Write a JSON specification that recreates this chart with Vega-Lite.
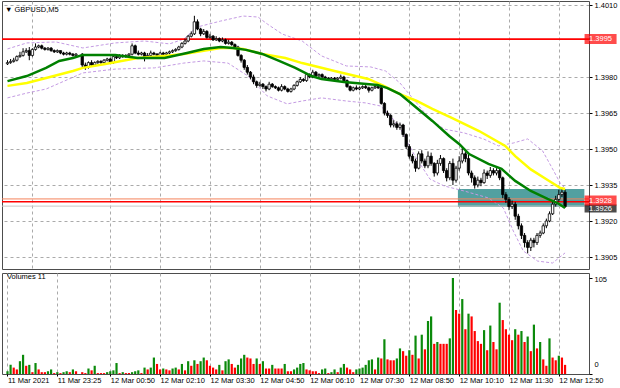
{
"$schema":"https://vega.github.io/schema/vega-lite/v6.json",
"padding":0,
"background":"white",
"spacing":2,
"config":{"font":"Liberation Sans","view":{"stroke":"#4d4d4d","strokeWidth":1},
"axis":{"labelFont":"Liberation Sans","labelFontSize":7.5,"labelColor":"#000000","tickColor":"#000000","domain":false},
"title":{"font":"Liberation Sans","fontSize":7.5,"fontWeight":"normal","color":"#000000"}},
"datasets":{
"bars":[
{"t":"2021-03-11T22:05","o":1.39855,"h":1.3987,"l":1.3985,"c":1.3986,"v":3,"vd":"up"},
{"t":"2021-03-11T22:10","o":1.3986,"h":1.39875,"l":1.39855,"c":1.39865,"v":10,"vd":"up"},
{"t":"2021-03-11T22:15","o":1.39865,"h":1.3988,"l":1.3986,"c":1.3987,"v":7,"vd":"dn"},
{"t":"2021-03-11T22:20","o":1.3987,"h":1.3989,"l":1.39865,"c":1.39885,"v":5,"vd":"dn"},
{"t":"2021-03-11T22:25","o":1.39885,"h":1.39905,"l":1.3988,"c":1.3989,"v":14,"vd":"up"},
{"t":"2021-03-11T22:30","o":1.3989,"h":1.3992,"l":1.39885,"c":1.39905,"v":21,"vd":"up"},
{"t":"2021-03-11T22:35","o":1.39905,"h":1.3992,"l":1.399,"c":1.3991,"v":9,"vd":"dn"},
{"t":"2021-03-11T22:40","o":1.3991,"h":1.39925,"l":1.3987,"c":1.3989,"v":10,"vd":"up"},
{"t":"2021-03-11T22:45","o":1.3989,"h":1.3992,"l":1.39885,"c":1.39915,"v":2,"vd":"dn"},
{"t":"2021-03-11T22:50","o":1.39915,"h":1.3994,"l":1.3991,"c":1.39925,"v":12,"vd":"up"},
{"t":"2021-03-11T22:55","o":1.39925,"h":1.39935,"l":1.3992,"c":1.3993,"v":5,"vd":"dn"},
{"t":"2021-03-11T23:00","o":1.3993,"h":1.39935,"l":1.39915,"c":1.3992,"v":2,"vd":"dn"},
{"t":"2021-03-11T23:05","o":1.3992,"h":1.39925,"l":1.3991,"c":1.39915,"v":2,"vd":"dn"},
{"t":"2021-03-11T23:10","o":1.39915,"h":1.39925,"l":1.3991,"c":1.3992,"v":3,"vd":"up"},
{"t":"2021-03-11T23:15","o":1.3992,"h":1.39925,"l":1.39905,"c":1.3991,"v":5,"vd":"up"},
{"t":"2021-03-11T23:20","o":1.3991,"h":1.39915,"l":1.399,"c":1.39905,"v":1,"vd":"dn"},
{"t":"2021-03-11T23:25","o":1.39905,"h":1.39915,"l":1.399,"c":1.3991,"v":2,"vd":"up"},
{"t":"2021-03-11T23:30","o":1.3991,"h":1.3991,"l":1.39895,"c":1.399,"v":1,"vd":"dn"},
{"t":"2021-03-11T23:35","o":1.399,"h":1.39905,"l":1.3989,"c":1.39895,"v":2,"vd":"up"},
{"t":"2021-03-11T23:40","o":1.39895,"h":1.39905,"l":1.3989,"c":1.399,"v":3,"vd":"up"},
{"t":"2021-03-11T23:45","o":1.399,"h":1.39905,"l":1.3989,"c":1.39895,"v":2,"vd":"dn"},
{"t":"2021-03-11T23:50","o":1.39895,"h":1.399,"l":1.39885,"c":1.3989,"v":5,"vd":"up"},
{"t":"2021-03-11T23:55","o":1.3989,"h":1.399,"l":1.39885,"c":1.39895,"v":3,"vd":"dn"},
{"t":"2021-03-12T00:05","o":1.39895,"h":1.399,"l":1.3984,"c":1.3985,"v":2,"vd":"dn"},
{"t":"2021-03-12T00:10","o":1.3985,"h":1.3986,"l":1.3983,"c":1.3984,"v":1,"vd":"dn"},
{"t":"2021-03-12T00:15","o":1.3984,"h":1.39865,"l":1.39835,"c":1.3986,"v":6,"vd":"up"},
{"t":"2021-03-12T00:20","o":1.3986,"h":1.3987,"l":1.39845,"c":1.3985,"v":4,"vd":"dn"},
{"t":"2021-03-12T00:25","o":1.3985,"h":1.39865,"l":1.39845,"c":1.3986,"v":9,"vd":"up"},
{"t":"2021-03-12T00:30","o":1.3986,"h":1.3987,"l":1.39855,"c":1.39865,"v":1,"vd":"dn"},
{"t":"2021-03-12T00:35","o":1.39865,"h":1.3987,"l":1.39855,"c":1.3986,"v":1,"vd":"dn"},
{"t":"2021-03-12T00:40","o":1.3986,"h":1.39875,"l":1.39855,"c":1.3987,"v":1,"vd":"dn"},
{"t":"2021-03-12T00:45","o":1.3987,"h":1.3988,"l":1.39865,"c":1.39875,"v":2,"vd":"up"},
{"t":"2021-03-12T00:50","o":1.39875,"h":1.3988,"l":1.39855,"c":1.3986,"v":3,"vd":"up"},
{"t":"2021-03-12T00:55","o":1.3986,"h":1.39895,"l":1.39855,"c":1.39885,"v":4,"vd":"up"},
{"t":"2021-03-12T01:00","o":1.39885,"h":1.3989,"l":1.39875,"c":1.3988,"v":12,"vd":"up"},
{"t":"2021-03-12T01:05","o":1.3988,"h":1.39895,"l":1.39875,"c":1.3989,"v":1,"vd":"dn"},
{"t":"2021-03-12T01:10","o":1.3989,"h":1.39895,"l":1.3988,"c":1.39885,"v":2,"vd":"up"},
{"t":"2021-03-12T01:15","o":1.39885,"h":1.39895,"l":1.3988,"c":1.3989,"v":1,"vd":"dn"},
{"t":"2021-03-12T01:20","o":1.3989,"h":1.399,"l":1.39885,"c":1.39895,"v":1,"vd":"dn"},
{"t":"2021-03-12T01:25","o":1.39895,"h":1.3994,"l":1.3989,"c":1.3993,"v":2,"vd":"up"},
{"t":"2021-03-12T01:30","o":1.3993,"h":1.39935,"l":1.39895,"c":1.399,"v":3,"vd":"up"},
{"t":"2021-03-12T01:35","o":1.399,"h":1.3991,"l":1.3989,"c":1.39895,"v":4,"vd":"up"},
{"t":"2021-03-12T01:40","o":1.39895,"h":1.39905,"l":1.3989,"c":1.399,"v":1,"vd":"dn"},
{"t":"2021-03-12T01:45","o":1.399,"h":1.39905,"l":1.39865,"c":1.3988,"v":7,"vd":"up"},
{"t":"2021-03-12T01:50","o":1.3988,"h":1.399,"l":1.39875,"c":1.3989,"v":5,"vd":"dn"},
{"t":"2021-03-12T01:55","o":1.3989,"h":1.3991,"l":1.39885,"c":1.399,"v":7,"vd":"up"},
{"t":"2021-03-12T02:00","o":1.399,"h":1.39905,"l":1.3989,"c":1.39895,"v":18,"vd":"up"},
{"t":"2021-03-12T02:05","o":1.39895,"h":1.399,"l":1.39885,"c":1.3989,"v":11,"vd":"dn"},
{"t":"2021-03-12T02:10","o":1.3989,"h":1.39905,"l":1.39885,"c":1.399,"v":5,"vd":"dn"},
{"t":"2021-03-12T02:15","o":1.399,"h":1.39905,"l":1.3989,"c":1.39895,"v":6,"vd":"up"},
{"t":"2021-03-12T02:20","o":1.39895,"h":1.39905,"l":1.3989,"c":1.399,"v":5,"vd":"dn"},
{"t":"2021-03-12T02:25","o":1.399,"h":1.3991,"l":1.39895,"c":1.39905,"v":4,"vd":"dn"},
{"t":"2021-03-12T02:30","o":1.39905,"h":1.39915,"l":1.399,"c":1.3991,"v":6,"vd":"up"},
{"t":"2021-03-12T02:35","o":1.3991,"h":1.3992,"l":1.39905,"c":1.39915,"v":7,"vd":"up"},
{"t":"2021-03-12T02:40","o":1.39915,"h":1.3993,"l":1.3991,"c":1.39925,"v":5,"vd":"dn"},
{"t":"2021-03-12T02:45","o":1.39925,"h":1.39945,"l":1.3992,"c":1.3994,"v":11,"vd":"up"},
{"t":"2021-03-12T02:50","o":1.3994,"h":1.3996,"l":1.39935,"c":1.3995,"v":4,"vd":"dn"},
{"t":"2021-03-12T02:55","o":1.3995,"h":1.39975,"l":1.39945,"c":1.3997,"v":14,"vd":"up"},
{"t":"2021-03-12T03:00","o":1.3997,"h":1.3999,"l":1.39965,"c":1.3998,"v":9,"vd":"dn"},
{"t":"2021-03-12T03:05","o":1.3998,"h":1.40055,"l":1.39975,"c":1.4003,"v":15,"vd":"up"},
{"t":"2021-03-12T03:10","o":1.4003,"h":1.4004,"l":1.39995,"c":1.4,"v":11,"vd":"dn"},
{"t":"2021-03-12T03:15","o":1.4,"h":1.40005,"l":1.3997,"c":1.3998,"v":14,"vd":"up"},
{"t":"2021-03-12T03:20","o":1.3998,"h":1.4,"l":1.39975,"c":1.3999,"v":18,"vd":"up"},
{"t":"2021-03-12T03:25","o":1.3999,"h":1.39995,"l":1.3996,"c":1.39965,"v":15,"vd":"dn"},
{"t":"2021-03-12T03:30","o":1.39965,"h":1.3998,"l":1.3996,"c":1.3997,"v":9,"vd":"dn"},
{"t":"2021-03-12T03:35","o":1.3997,"h":1.39975,"l":1.3995,"c":1.39955,"v":7,"vd":"dn"},
{"t":"2021-03-12T03:40","o":1.39955,"h":1.3997,"l":1.3995,"c":1.3996,"v":5,"vd":"dn"},
{"t":"2021-03-12T03:45","o":1.3996,"h":1.39965,"l":1.39945,"c":1.3995,"v":10,"vd":"up"},
{"t":"2021-03-12T03:50","o":1.3995,"h":1.39965,"l":1.39945,"c":1.39955,"v":4,"vd":"dn"},
{"t":"2021-03-12T03:55","o":1.39955,"h":1.3996,"l":1.39935,"c":1.3994,"v":14,"vd":"up"},
{"t":"2021-03-12T04:00","o":1.3994,"h":1.39955,"l":1.39935,"c":1.39945,"v":16,"vd":"up"},
{"t":"2021-03-12T04:05","o":1.39945,"h":1.3995,"l":1.3993,"c":1.39935,"v":11,"vd":"dn"},
{"t":"2021-03-12T04:10","o":1.39935,"h":1.3994,"l":1.3992,"c":1.39925,"v":7,"vd":"dn"},
{"t":"2021-03-12T04:15","o":1.39925,"h":1.3993,"l":1.39885,"c":1.3989,"v":10,"vd":"up"},
{"t":"2021-03-12T04:20","o":1.3989,"h":1.39895,"l":1.3986,"c":1.3987,"v":17,"vd":"up"},
{"t":"2021-03-12T04:25","o":1.3987,"h":1.39875,"l":1.3983,"c":1.3984,"v":21,"vd":"up"},
{"t":"2021-03-12T04:30","o":1.3984,"h":1.3985,"l":1.3981,"c":1.3982,"v":18,"vd":"dn"},
{"t":"2021-03-12T04:35","o":1.3982,"h":1.39825,"l":1.3979,"c":1.398,"v":17,"vd":"dn"},
{"t":"2021-03-12T04:40","o":1.398,"h":1.3981,"l":1.3977,"c":1.3978,"v":11,"vd":"dn"},
{"t":"2021-03-12T04:45","o":1.3978,"h":1.39785,"l":1.39755,"c":1.39765,"v":17,"vd":"up"},
{"t":"2021-03-12T04:50","o":1.39765,"h":1.3978,"l":1.3976,"c":1.3977,"v":11,"vd":"dn"},
{"t":"2021-03-12T04:55","o":1.3977,"h":1.39775,"l":1.3975,"c":1.3976,"v":14,"vd":"up"},
{"t":"2021-03-12T05:00","o":1.3976,"h":1.39765,"l":1.3974,"c":1.3975,"v":6,"vd":"dn"},
{"t":"2021-03-12T05:05","o":1.3975,"h":1.3978,"l":1.39745,"c":1.3977,"v":6,"vd":"dn"},
{"t":"2021-03-12T05:10","o":1.3977,"h":1.39775,"l":1.39755,"c":1.3976,"v":10,"vd":"up"},
{"t":"2021-03-12T05:15","o":1.3976,"h":1.39765,"l":1.3975,"c":1.39755,"v":6,"vd":"dn"},
{"t":"2021-03-12T05:20","o":1.39755,"h":1.3976,"l":1.3974,"c":1.39745,"v":6,"vd":"dn"},
{"t":"2021-03-12T05:25","o":1.39745,"h":1.3977,"l":1.3974,"c":1.3976,"v":6,"vd":"dn"},
{"t":"2021-03-12T05:30","o":1.3976,"h":1.39765,"l":1.39745,"c":1.3975,"v":11,"vd":"up"},
{"t":"2021-03-12T05:35","o":1.3975,"h":1.39755,"l":1.39735,"c":1.3974,"v":3,"vd":"dn"},
{"t":"2021-03-12T05:40","o":1.3974,"h":1.39755,"l":1.39735,"c":1.3975,"v":3,"vd":"dn"},
{"t":"2021-03-12T05:45","o":1.3975,"h":1.3977,"l":1.39745,"c":1.39765,"v":5,"vd":"up"},
{"t":"2021-03-12T05:50","o":1.39765,"h":1.39785,"l":1.3976,"c":1.3978,"v":7,"vd":"up"},
{"t":"2021-03-12T05:55","o":1.3978,"h":1.398,"l":1.39775,"c":1.3979,"v":11,"vd":"up"},
{"t":"2021-03-12T06:00","o":1.3979,"h":1.39795,"l":1.3978,"c":1.39785,"v":12,"vd":"up"},
{"t":"2021-03-12T06:05","o":1.39785,"h":1.39815,"l":1.3978,"c":1.3981,"v":5,"vd":"dn"},
{"t":"2021-03-12T06:10","o":1.3981,"h":1.39815,"l":1.39795,"c":1.398,"v":4,"vd":"dn"},
{"t":"2021-03-12T06:15","o":1.398,"h":1.3983,"l":1.39795,"c":1.3982,"v":3,"vd":"dn"},
{"t":"2021-03-12T06:20","o":1.3982,"h":1.39825,"l":1.398,"c":1.39805,"v":3,"vd":"dn"},
{"t":"2021-03-12T06:25","o":1.39805,"h":1.39815,"l":1.398,"c":1.3981,"v":1,"vd":"dn"},
{"t":"2021-03-12T06:30","o":1.3981,"h":1.39815,"l":1.39795,"c":1.398,"v":5,"vd":"up"},
{"t":"2021-03-12T06:35","o":1.398,"h":1.39805,"l":1.3979,"c":1.39795,"v":6,"vd":"up"},
{"t":"2021-03-12T06:40","o":1.39795,"h":1.398,"l":1.39785,"c":1.3979,"v":1,"vd":"dn"},
{"t":"2021-03-12T06:45","o":1.3979,"h":1.398,"l":1.39785,"c":1.39795,"v":2,"vd":"up"},
{"t":"2021-03-12T06:50","o":1.39795,"h":1.398,"l":1.39785,"c":1.3979,"v":5,"vd":"up"},
{"t":"2021-03-12T06:55","o":1.3979,"h":1.398,"l":1.39785,"c":1.39795,"v":2,"vd":"dn"},
{"t":"2021-03-12T07:00","o":1.39795,"h":1.3981,"l":1.3979,"c":1.398,"v":7,"vd":"up"},
{"t":"2021-03-12T07:05","o":1.398,"h":1.39805,"l":1.3978,"c":1.39785,"v":11,"vd":"up"},
{"t":"2021-03-12T07:10","o":1.39785,"h":1.3979,"l":1.39755,"c":1.3976,"v":7,"vd":"dn"},
{"t":"2021-03-12T07:15","o":1.3976,"h":1.39765,"l":1.3974,"c":1.39745,"v":5,"vd":"dn"},
{"t":"2021-03-12T07:20","o":1.39745,"h":1.3976,"l":1.3974,"c":1.39755,"v":2,"vd":"dn"},
{"t":"2021-03-12T07:25","o":1.39755,"h":1.39765,"l":1.39745,"c":1.3975,"v":5,"vd":"up"},
{"t":"2021-03-12T07:30","o":1.3975,"h":1.3976,"l":1.39745,"c":1.39755,"v":6,"vd":"up"},
{"t":"2021-03-12T07:35","o":1.39755,"h":1.39765,"l":1.3975,"c":1.3976,"v":7,"vd":"up"},
{"t":"2021-03-12T07:40","o":1.3976,"h":1.3977,"l":1.3975,"c":1.39755,"v":10,"vd":"up"},
{"t":"2021-03-12T07:45","o":1.39755,"h":1.3976,"l":1.39735,"c":1.39745,"v":15,"vd":"up"},
{"t":"2021-03-12T07:50","o":1.39745,"h":1.3976,"l":1.3974,"c":1.39755,"v":16,"vd":"up"},
{"t":"2021-03-12T07:55","o":1.39755,"h":1.39765,"l":1.3975,"c":1.3976,"v":5,"vd":"dn"},
{"t":"2021-03-12T08:00","o":1.3976,"h":1.3977,"l":1.3975,"c":1.39755,"v":18,"vd":"up"},
{"t":"2021-03-12T08:05","o":1.39755,"h":1.3976,"l":1.39685,"c":1.3969,"v":17,"vd":"dn"},
{"t":"2021-03-12T08:10","o":1.3969,"h":1.39695,"l":1.3964,"c":1.3965,"v":38,"vd":"up"},
{"t":"2021-03-12T08:15","o":1.3965,"h":1.3966,"l":1.3963,"c":1.3964,"v":16,"vd":"dn"},
{"t":"2021-03-12T08:20","o":1.3964,"h":1.39645,"l":1.3959,"c":1.396,"v":15,"vd":"dn"},
{"t":"2021-03-12T08:25","o":1.396,"h":1.3962,"l":1.3959,"c":1.39605,"v":15,"vd":"dn"},
{"t":"2021-03-12T08:30","o":1.39605,"h":1.39615,"l":1.3958,"c":1.3959,"v":17,"vd":"up"},
{"t":"2021-03-12T08:35","o":1.3959,"h":1.3961,"l":1.3958,"c":1.396,"v":28,"vd":"up"},
{"t":"2021-03-12T08:40","o":1.396,"h":1.39605,"l":1.3955,"c":1.3956,"v":25,"vd":"dn"},
{"t":"2021-03-12T08:45","o":1.3956,"h":1.39565,"l":1.395,"c":1.3951,"v":20,"vd":"dn"},
{"t":"2021-03-12T08:50","o":1.3951,"h":1.3952,"l":1.3946,"c":1.3947,"v":26,"vd":"up"},
{"t":"2021-03-12T08:55","o":1.3947,"h":1.3948,"l":1.3944,"c":1.3945,"v":21,"vd":"dn"},
{"t":"2021-03-12T09:00","o":1.3945,"h":1.3946,"l":1.39405,"c":1.3942,"v":42,"vd":"up"},
{"t":"2021-03-12T09:05","o":1.3942,"h":1.3949,"l":1.39415,"c":1.3948,"v":17,"vd":"dn"},
{"t":"2021-03-12T09:10","o":1.3948,"h":1.39495,"l":1.3944,"c":1.3945,"v":43,"vd":"up"},
{"t":"2021-03-12T09:15","o":1.3945,"h":1.3946,"l":1.3942,"c":1.3943,"v":27,"vd":"dn"},
{"t":"2021-03-12T09:20","o":1.3943,"h":1.3949,"l":1.3942,"c":1.3947,"v":58,"vd":"up"},
{"t":"2021-03-12T09:25","o":1.3947,"h":1.39485,"l":1.3943,"c":1.3944,"v":63,"vd":"up"},
{"t":"2021-03-12T09:30","o":1.3944,"h":1.39445,"l":1.39385,"c":1.394,"v":33,"vd":"dn"},
{"t":"2021-03-12T09:35","o":1.394,"h":1.39455,"l":1.3939,"c":1.3944,"v":35,"vd":"up"},
{"t":"2021-03-12T09:40","o":1.3944,"h":1.39475,"l":1.3943,"c":1.3946,"v":33,"vd":"dn"},
{"t":"2021-03-12T09:45","o":1.3946,"h":1.39465,"l":1.394,"c":1.3941,"v":33,"vd":"dn"},
{"t":"2021-03-12T09:50","o":1.3941,"h":1.3942,"l":1.39365,"c":1.3938,"v":33,"vd":"dn"},
{"t":"2021-03-12T09:55","o":1.3938,"h":1.3945,"l":1.3937,"c":1.3944,"v":39,"vd":"up"},
{"t":"2021-03-12T10:00","o":1.3944,"h":1.3946,"l":1.3935,"c":1.3937,"v":105,"vd":"up"},
{"t":"2021-03-12T10:05","o":1.3937,"h":1.3943,"l":1.3936,"c":1.3942,"v":70,"vd":"dn"},
{"t":"2021-03-12T10:10","o":1.3942,"h":1.3947,"l":1.3941,"c":1.3945,"v":66,"vd":"dn"},
{"t":"2021-03-12T10:15","o":1.3945,"h":1.39505,"l":1.3944,"c":1.3948,"v":82,"vd":"up"},
{"t":"2021-03-12T10:20","o":1.3948,"h":1.3949,"l":1.39445,"c":1.3946,"v":49,"vd":"dn"},
{"t":"2021-03-12T10:25","o":1.3946,"h":1.3948,"l":1.3939,"c":1.394,"v":66,"vd":"up"},
{"t":"2021-03-12T10:30","o":1.394,"h":1.3941,"l":1.3936,"c":1.3938,"v":63,"vd":"dn"},
{"t":"2021-03-12T10:35","o":1.3938,"h":1.3939,"l":1.39335,"c":1.3935,"v":47,"vd":"dn"},
{"t":"2021-03-12T10:40","o":1.3935,"h":1.39385,"l":1.3934,"c":1.3937,"v":36,"vd":"dn"},
{"t":"2021-03-12T10:45","o":1.3937,"h":1.3938,"l":1.39345,"c":1.3936,"v":33,"vd":"dn"},
{"t":"2021-03-12T10:50","o":1.3936,"h":1.39415,"l":1.39355,"c":1.394,"v":48,"vd":"up"},
{"t":"2021-03-12T10:55","o":1.394,"h":1.3941,"l":1.39375,"c":1.3939,"v":26,"vd":"dn"},
{"t":"2021-03-12T11:00","o":1.3939,"h":1.39425,"l":1.3938,"c":1.3941,"v":53,"vd":"up"},
{"t":"2021-03-12T11:05","o":1.3941,"h":1.3942,"l":1.3939,"c":1.394,"v":35,"vd":"dn"},
{"t":"2021-03-12T11:10","o":1.394,"h":1.3942,"l":1.3939,"c":1.3941,"v":27,"vd":"dn"},
{"t":"2021-03-12T11:15","o":1.3941,"h":1.3942,"l":1.3937,"c":1.3938,"v":78,"vd":"up"},
{"t":"2021-03-12T11:20","o":1.3938,"h":1.39385,"l":1.39295,"c":1.3931,"v":59,"vd":"dn"},
{"t":"2021-03-12T11:25","o":1.3931,"h":1.3932,"l":1.39275,"c":1.3929,"v":49,"vd":"dn"},
{"t":"2021-03-12T11:30","o":1.3929,"h":1.393,"l":1.39245,"c":1.3926,"v":43,"vd":"dn"},
{"t":"2021-03-12T11:35","o":1.3926,"h":1.39285,"l":1.3925,"c":1.3927,"v":37,"vd":"dn"},
{"t":"2021-03-12T11:40","o":1.3927,"h":1.3928,"l":1.39205,"c":1.3922,"v":49,"vd":"up"},
{"t":"2021-03-12T11:45","o":1.3922,"h":1.3923,"l":1.39165,"c":1.3918,"v":43,"vd":"dn"},
{"t":"2021-03-12T11:50","o":1.3918,"h":1.3919,"l":1.39125,"c":1.3914,"v":47,"vd":"up"},
{"t":"2021-03-12T11:55","o":1.3914,"h":1.3915,"l":1.3909,"c":1.3911,"v":35,"vd":"dn"},
{"t":"2021-03-12T12:00","o":1.3911,"h":1.3912,"l":1.39065,"c":1.3909,"v":41,"vd":"up"},
{"t":"2021-03-12T12:05","o":1.3909,"h":1.3913,"l":1.39075,"c":1.3912,"v":25,"vd":"dn"},
{"t":"2021-03-12T12:10","o":1.3912,"h":1.3913,"l":1.3909,"c":1.3911,"v":54,"vd":"up"},
{"t":"2021-03-12T12:15","o":1.3911,"h":1.3915,"l":1.391,"c":1.3914,"v":28,"vd":"dn"},
{"t":"2021-03-12T12:20","o":1.3914,"h":1.3916,"l":1.3913,"c":1.3915,"v":35,"vd":"up"},
{"t":"2021-03-12T12:25","o":1.3915,"h":1.3919,"l":1.39145,"c":1.3918,"v":16,"vd":"dn"},
{"t":"2021-03-12T12:30","o":1.3918,"h":1.3921,"l":1.3917,"c":1.392,"v":9,"vd":"dn"},
{"t":"2021-03-12T12:35","o":1.392,"h":1.3924,"l":1.39195,"c":1.3923,"v":39,"vd":"up"},
{"t":"2021-03-12T12:40","o":1.3923,"h":1.3928,"l":1.39225,"c":1.3927,"v":18,"vd":"dn"},
{"t":"2021-03-12T12:45","o":1.3927,"h":1.39305,"l":1.3926,"c":1.3929,"v":15,"vd":"dn"},
{"t":"2021-03-12T12:50","o":1.3929,"h":1.3933,"l":1.3928,"c":1.3931,"v":20,"vd":"up"},
{"t":"2021-03-12T12:55","o":1.3931,"h":1.3934,"l":1.393,"c":1.3932,"v":18,"vd":"dn"},
{"t":"2021-03-12T13:00","o":1.3932,"h":1.3933,"l":1.39255,"c":1.3926,"v":10,"vd":"dn"}
],
"ind":[
{"t":"2021-03-11T22:05","s":"slow","p":1.39763},{"t":"2021-03-11T22:36","s":"slow","p":1.39775},{"t":"2021-03-11T23:07","s":"slow","p":1.39796},{"t":"2021-03-11T23:50","s":"slow","p":1.39825},{"t":"2021-03-12T00:06","s":"slow","p":1.39838},{"t":"2021-03-12T00:42","s":"slow","p":1.39854},{"t":"2021-03-12T01:34","s":"slow","p":1.39879},{"t":"2021-03-12T02:17","s":"slow","p":1.39888},{"t":"2021-03-12T02:48","s":"slow","p":1.39896},{"t":"2021-03-12T03:47","s":"slow","p":1.39921},{"t":"2021-03-12T04:07","s":"slow","p":1.39921},{"t":"2021-03-12T04:23","s":"slow","p":1.39917},{"t":"2021-03-12T04:54","s":"slow","p":1.39896},{"t":"2021-03-12T05:31","s":"slow","p":1.39879},{"t":"2021-03-12T05:58","s":"slow","p":1.39858},{"t":"2021-03-12T06:50","s":"slow","p":1.39825},{"t":"2021-03-12T07:44","s":"slow","p":1.39792},{"t":"2021-03-12T08:09","s":"slow","p":1.39763},{"t":"2021-03-12T08:35","s":"slow","p":1.39729},{"t":"2021-03-12T09:02","s":"slow","p":1.397},{"t":"2021-03-12T09:27","s":"slow","p":1.39667},{"t":"2021-03-12T09:59","s":"slow","p":1.39629},{"t":"2021-03-12T10:42","s":"slow","p":1.39575},{"t":"2021-03-12T11:24","s":"slow","p":1.39513},{"t":"2021-03-12T11:40","s":"slow","p":1.3947},{"t":"2021-03-12T12:05","s":"slow","p":1.39415},{"t":"2021-03-12T12:32","s":"slow","p":1.39371},{"t":"2021-03-12T12:52","s":"slow","p":1.39338},{"t":"2021-03-12T13:00","s":"slow","p":1.39333},
{"t":"2021-03-11T22:05","s":"fast","p":1.39783},{"t":"2021-03-11T22:36","s":"fast","p":1.39804},{"t":"2021-03-11T23:07","s":"fast","p":1.39838},{"t":"2021-03-11T23:28","s":"fast","p":1.39867},{"t":"2021-03-11T23:50","s":"fast","p":1.39879},{"t":"2021-03-12T00:06","s":"fast","p":1.39892},{"t":"2021-03-12T00:58","s":"fast","p":1.39892},{"t":"2021-03-12T01:34","s":"fast","p":1.39879},{"t":"2021-03-12T02:17","s":"fast","p":1.39879},{"t":"2021-03-12T02:53","s":"fast","p":1.399},{"t":"2021-03-12T03:20","s":"fast","p":1.39917},{"t":"2021-03-12T03:47","s":"fast","p":1.39925},{"t":"2021-03-12T04:07","s":"fast","p":1.39921},{"t":"2021-03-12T04:28","s":"fast","p":1.39913},{"t":"2021-03-12T04:54","s":"fast","p":1.39896},{"t":"2021-03-12T05:21","s":"fast","p":1.39867},{"t":"2021-03-12T05:47","s":"fast","p":1.39838},{"t":"2021-03-12T06:13","s":"fast","p":1.39804},{"t":"2021-03-12T06:29","s":"fast","p":1.39792},{"t":"2021-03-12T07:05","s":"fast","p":1.39779},{"t":"2021-03-12T07:59","s":"fast","p":1.39767},{"t":"2021-03-12T08:15","s":"fast","p":1.39754},{"t":"2021-03-12T08:35","s":"fast","p":1.39729},{"t":"2021-03-12T09:02","s":"fast","p":1.39671},{"t":"2021-03-12T09:27","s":"fast","p":1.39617},{"t":"2021-03-12T09:54","s":"fast","p":1.39554},{"t":"2021-03-12T10:10","s":"fast","p":1.39521},{"t":"2021-03-12T10:26","s":"fast","p":1.39479},{"t":"2021-03-12T10:57","s":"fast","p":1.39438},{"t":"2021-03-12T11:18","s":"fast","p":1.39417},{"t":"2021-03-12T11:40","s":"fast","p":1.39367},{"t":"2021-03-12T12:05","s":"fast","p":1.39325},{"t":"2021-03-12T12:32","s":"fast","p":1.39292},{"t":"2021-03-12T12:48","s":"fast","p":1.39275},{"t":"2021-03-12T13:00","s":"fast","p":1.39254},
{"t":"2021-03-11T22:05","s":"upper","p":1.39917},{"t":"2021-03-11T22:36","s":"upper","p":1.39942},{"t":"2021-03-11T23:23","s":"upper","p":1.39946},{"t":"2021-03-12T00:06","s":"upper","p":1.39921},{"t":"2021-03-12T00:58","s":"upper","p":1.39942},{"t":"2021-03-12T01:45","s":"upper","p":1.3995},{"t":"2021-03-12T02:25","s":"upper","p":1.39938},{"t":"2021-03-12T02:48","s":"upper","p":1.39958},{"t":"2021-03-12T03:09","s":"upper","p":1.40008},{"t":"2021-03-12T03:47","s":"upper","p":1.40033},{"t":"2021-03-12T04:23","s":"upper","p":1.40054},{"t":"2021-03-12T04:47","s":"upper","p":1.4005},{"t":"2021-03-12T05:02","s":"upper","p":1.40021},{"t":"2021-03-12T05:26","s":"upper","p":1.39979},{"t":"2021-03-12T05:58","s":"upper","p":1.3995},{"t":"2021-03-12T06:29","s":"upper","p":1.39888},{"t":"2021-03-12T07:09","s":"upper","p":1.39846},{"t":"2021-03-12T07:48","s":"upper","p":1.39842},{"t":"2021-03-12T08:12","s":"upper","p":1.39825},{"t":"2021-03-12T08:35","s":"upper","p":1.39775},{"t":"2021-03-12T08:59","s":"upper","p":1.397},{"t":"2021-03-12T09:23","s":"upper","p":1.39625},{"t":"2021-03-12T09:46","s":"upper","p":1.39583},{"t":"2021-03-12T10:18","s":"upper","p":1.39567},{"t":"2021-03-12T10:49","s":"upper","p":1.39542},{"t":"2021-03-12T11:13","s":"upper","p":1.39513},{"t":"2021-03-12T11:37","s":"upper","p":1.39525},{"t":"2021-03-12T12:00","s":"upper","p":1.39542},{"t":"2021-03-12T12:24","s":"upper","p":1.39492},{"t":"2021-03-12T12:40","s":"upper","p":1.39417},{"t":"2021-03-12T12:53","s":"upper","p":1.39354},{"t":"2021-03-12T13:00","s":"upper","p":1.39338},
{"t":"2021-03-11T22:05","s":"lower","p":1.39713},{"t":"2021-03-11T22:36","s":"lower","p":1.39733},{"t":"2021-03-11T23:07","s":"lower","p":1.3975},{"t":"2021-03-12T00:06","s":"lower","p":1.39817},{"t":"2021-03-12T00:58","s":"lower","p":1.39833},{"t":"2021-03-12T02:01","s":"lower","p":1.39838},{"t":"2021-03-12T02:48","s":"lower","p":1.39858},{"t":"2021-03-12T03:20","s":"lower","p":1.39867},{"t":"2021-03-12T03:59","s":"lower","p":1.39858},{"t":"2021-03-12T04:31","s":"lower","p":1.39804},{"t":"2021-03-12T05:02","s":"lower","p":1.39721},{"t":"2021-03-12T05:34","s":"lower","p":1.39688},{"t":"2021-03-12T05:58","s":"lower","p":1.397},{"t":"2021-03-12T06:29","s":"lower","p":1.39713},{"t":"2021-03-12T07:09","s":"lower","p":1.397},{"t":"2021-03-12T07:40","s":"lower","p":1.39692},{"t":"2021-03-12T08:04","s":"lower","p":1.39679},{"t":"2021-03-12T08:20","s":"lower","p":1.39638},{"t":"2021-03-12T08:35","s":"lower","p":1.39588},{"t":"2021-03-12T08:59","s":"lower","p":1.39471},{"t":"2021-03-12T09:23","s":"lower","p":1.39375},{"t":"2021-03-12T09:46","s":"lower","p":1.39346},{"t":"2021-03-12T10:18","s":"lower","p":1.39325},{"t":"2021-03-12T10:57","s":"lower","p":1.39296},{"t":"2021-03-12T11:21","s":"lower","p":1.39254},{"t":"2021-03-12T11:37","s":"lower","p":1.39158},{"t":"2021-03-12T11:53","s":"lower","p":1.39075},{"t":"2021-03-12T12:16","s":"lower","p":1.39033},{"t":"2021-03-12T12:40","s":"lower","p":1.39025},{"t":"2021-03-12T13:00","s":"lower","p":1.39067}
],
"hlines":[{"p":1.39958,"k":"level"},{"p":1.39292,"k":"aux"},{"p":1.3928,"k":"level"},{"p":1.39262,"k":"bid"}],
"boxes":[{"p":1.39252,"lab":"1.3926","k":"bid"},{"p":1.39958,"lab":"1.3995","k":"level"},{"p":1.39285,"lab":"1.3928","k":"level"}],
"zones":[{"t1":"2021-03-12T10:08","t2":"2021-03-12T13:31","p1":1.39258,"p2":1.39333}]
},
"vconcat":[
{
"width":587,"height":268,
"title":{"text":"▼ GBPUSD,M5","anchor":"start","frame":"group","offset":-12,"dx":3},
"layer":[
{"data":{"name":"zones"},"mark":{"type":"rect","color":"#52a0a0","clip":true},
"encoding":{
"x":{"field":"t1","type":"temporal","scale":{"domain":[{"year":2021,"month":3,"date":11,"hours":22,"minutes":4,"seconds":13},{"year":2021,"month":3,"date":12,"hours":13,"minutes":30,"seconds":24}],"nice":false},
"axis":{"title":null,"labels":false,"ticks":false,"domain":false,"grid":true,"gridDash":[3,3],"gridColor":"#aaaaaa",
"values":[{"year":2021,"month":3,"date":11,"hours":22,"minutes":45},{"year":2021,"month":3,"date":11,"hours":23,"minutes":25},{"year":2021,"month":3,"date":12,"hours":0,"minutes":50},{"year":2021,"month":3,"date":12,"hours":1,"minutes":30},{"year":2021,"month":3,"date":12,"hours":2,"minutes":10},{"year":2021,"month":3,"date":12,"hours":2,"minutes":50},{"year":2021,"month":3,"date":12,"hours":3,"minutes":30},{"year":2021,"month":3,"date":12,"hours":4,"minutes":10},{"year":2021,"month":3,"date":12,"hours":4,"minutes":50},{"year":2021,"month":3,"date":12,"hours":5,"minutes":30},{"year":2021,"month":3,"date":12,"hours":6,"minutes":10},{"year":2021,"month":3,"date":12,"hours":6,"minutes":50},{"year":2021,"month":3,"date":12,"hours":7,"minutes":30},{"year":2021,"month":3,"date":12,"hours":8,"minutes":10},{"year":2021,"month":3,"date":12,"hours":8,"minutes":50},{"year":2021,"month":3,"date":12,"hours":9,"minutes":30},{"year":2021,"month":3,"date":12,"hours":10,"minutes":10},{"year":2021,"month":3,"date":12,"hours":10,"minutes":50},{"year":2021,"month":3,"date":12,"hours":11,"minutes":30},{"year":2021,"month":3,"date":12,"hours":12,"minutes":10},{"year":2021,"month":3,"date":12,"hours":12,"minutes":50}]}},
"x2":{"field":"t2"},
"y":{"field":"p1","type":"quantitative","scale":{"domain":[1.39,1.401167],"nice":false,"zero":false},
"axis":{"title":null,"orient":"right","values":[1.401,1.398,1.3965,1.395,1.3935,1.392,1.3905],"format":".4f","grid":true,"gridDash":[3,3],"gridColor":"#aaaaaa","tickSize":3,"labelPadding":2,"labelOverlap":false}},
"y2":{"field":"p2"}}},
{"data":{"name":"ind"},"transform":[{"filter":"datum.s == 'upper' || datum.s == 'lower'"}],
"mark":{"type":"line","color":"#c49be3","strokeWidth":1,"strokeDash":[3,2],"clip":true},
"encoding":{"x":{"field":"t","type":"temporal","scale":{"domain":[{"year":2021,"month":3,"date":11,"hours":22,"minutes":4,"seconds":13},{"year":2021,"month":3,"date":12,"hours":13,"minutes":30,"seconds":24}],"nice":false}},
"y":{"field":"p","type":"quantitative","scale":{"domain":[1.39,1.401167],"nice":false,"zero":false}},"detail":{"field":"s"}}},
{"mark":{"type":"rule","color":"#000000","strokeDash":[1,2],"strokeWidth":1},
"encoding":{"x":{"datum":{"year":2021,"month":3,"date":12,"hours":0,"minutes":5},"type":"temporal"}}},
{"data":{"name":"hlines"},"transform":[{"filter":"datum.k == 'bid'"}],"mark":{"type":"rule","color":"#c8c8c8","strokeWidth":1},
"encoding":{"y":{"field":"p","type":"quantitative","scale":{"domain":[1.39,1.401167],"nice":false,"zero":false}}}},
{"data":{"name":"hlines"},"transform":[{"filter":"datum.k == 'aux'"}],"mark":{"type":"rule","color":"#f4835a","strokeWidth":1},
"encoding":{"y":{"field":"p","type":"quantitative","scale":{"domain":[1.39,1.401167],"nice":false,"zero":false}}}},
{"data":{"name":"hlines"},"transform":[{"filter":"datum.k == 'level'"}],"mark":{"type":"rule","color":"#ff0000","strokeWidth":1.6},
"encoding":{"y":{"field":"p","type":"quantitative","scale":{"domain":[1.39,1.401167],"nice":false,"zero":false}}}},
{"data":{"name":"bars"},"mark":{"type":"rule","color":"#000000","strokeWidth":1,"clip":true},
"encoding":{"x":{"field":"t","type":"temporal"},"y":{"field":"l","type":"quantitative"},"y2":{"field":"h"}}},
{"data":{"name":"bars"},"mark":{"type":"bar","size":2.4,"stroke":"#000000","strokeWidth":0.8,"clip":true},
"encoding":{"x":{"field":"t","type":"temporal"},"y":{"field":"o","type":"quantitative"},"y2":{"field":"c"},
"fill":{"condition":{"test":"datum.c >= datum.o","value":"#ffffff"},"value":"#000000"}}},
{"data":{"name":"ind"},"transform":[{"filter":"datum.s == 'slow'"}],"mark":{"type":"line","color":"#ffff00","strokeWidth":2.5,"clip":true},
"encoding":{"x":{"field":"t","type":"temporal"},"y":{"field":"p","type":"quantitative"}}},
{"data":{"name":"ind"},"transform":[{"filter":"datum.s == 'fast'"}],"mark":{"type":"line","color":"#008000","strokeWidth":2.5,"clip":true},
"encoding":{"x":{"field":"t","type":"temporal"},"y":{"field":"p","type":"quantitative"}}},
{"data":{"name":"boxes"},"transform":[{"filter":"datum.k == 'bid'"}],"mark":{"type":"tick","orient":"horizontal","size":32,"thickness":8,"color":"#000000"},
"encoding":{"x":{"datum":{"year":2021,"month":3,"date":12,"hours":13,"minutes":57},"type":"temporal"},"y":{"field":"p","type":"quantitative"}}},
{"data":{"name":"boxes"},"transform":[{"filter":"datum.k == 'bid'"}],"mark":{"type":"text","color":"#ffffff","fontSize":7.5,"align":"center","baseline":"middle"},
"encoding":{"x":{"datum":{"year":2021,"month":3,"date":12,"hours":13,"minutes":57},"type":"temporal"},"y":{"field":"p","type":"quantitative"},"text":{"field":"lab"}}},
{"data":{"name":"boxes"},"transform":[{"filter":"datum.k == 'level'"}],"mark":{"type":"tick","orient":"horizontal","size":32,"thickness":10,"color":"#ff0000"},
"encoding":{"x":{"datum":{"year":2021,"month":3,"date":12,"hours":13,"minutes":57},"type":"temporal"},"y":{"field":"p","type":"quantitative"}}},
{"data":{"name":"boxes"},"transform":[{"filter":"datum.k == 'level'"}],"mark":{"type":"text","color":"#ffffff","fontSize":7.5,"align":"center","baseline":"middle"},
"encoding":{"x":{"datum":{"year":2021,"month":3,"date":12,"hours":13,"minutes":57},"type":"temporal"},"y":{"field":"p","type":"quantitative"},"text":{"field":"lab"}}}
]
},
{
"width":587,"height":101,
"title":{"text":"Volumes 11","anchor":"start","frame":"group","offset":-7,"dx":5},
"layer":[
{"data":{"name":"bars"},"mark":{"type":"bar","size":2.2,"clip":true},
"encoding":{
"x":{"field":"t","type":"temporal","scale":{"domain":[{"year":2021,"month":3,"date":11,"hours":22,"minutes":4,"seconds":13},{"year":2021,"month":3,"date":12,"hours":13,"minutes":30,"seconds":24}],"nice":false},
"axis":{"title":null,"grid":true,"gridDash":[3,3],"gridColor":"#aaaaaa","domain":false,"tickSize":2,"labelPadding":0,"labelAlign":"left","labelOverlap":false,"labelFlush":false,"labelBound":false,"labelDx":1,
"labelExpr":"timeFormat(datum.value,'%H:%M') == '22:05' ? '11 Mar 2021' : (indexof(['23:25','00:50','02:10','03:30','04:50','06:10','07:30','08:50','10:10','11:30','12:50'], timeFormat(datum.value,'%H:%M')) >= 0 ? timeFormat(datum.value,'%d %b %H:%M') : '')",
"tickOpacity":{"condition":{"test":"indexof(['22:05','23:25','00:50','02:10','03:30','04:50','06:10','07:30','08:50','10:10','11:30','12:50'], timeFormat(datum.value,'%H:%M')) < 0","value":0},"value":1},
"gridOpacity":{"condition":{"test":"timeFormat(datum.value,'%H:%M') == '00:10'","value":0},"value":1},
"values":[{"year":2021,"month":3,"date":11,"hours":22,"minutes":5},{"year":2021,"month":3,"date":11,"hours":22,"minutes":45},{"year":2021,"month":3,"date":11,"hours":23,"minutes":25},{"year":2021,"month":3,"date":12,"hours":0,"minutes":10},{"year":2021,"month":3,"date":12,"hours":0,"minutes":50},{"year":2021,"month":3,"date":12,"hours":1,"minutes":30},{"year":2021,"month":3,"date":12,"hours":2,"minutes":10},{"year":2021,"month":3,"date":12,"hours":2,"minutes":50},{"year":2021,"month":3,"date":12,"hours":3,"minutes":30},{"year":2021,"month":3,"date":12,"hours":4,"minutes":10},{"year":2021,"month":3,"date":12,"hours":4,"minutes":50},{"year":2021,"month":3,"date":12,"hours":5,"minutes":30},{"year":2021,"month":3,"date":12,"hours":6,"minutes":10},{"year":2021,"month":3,"date":12,"hours":6,"minutes":50},{"year":2021,"month":3,"date":12,"hours":7,"minutes":30},{"year":2021,"month":3,"date":12,"hours":8,"minutes":10},{"year":2021,"month":3,"date":12,"hours":8,"minutes":50},{"year":2021,"month":3,"date":12,"hours":9,"minutes":30},{"year":2021,"month":3,"date":12,"hours":10,"minutes":10},{"year":2021,"month":3,"date":12,"hours":10,"minutes":50},{"year":2021,"month":3,"date":12,"hours":11,"minutes":30},{"year":2021,"month":3,"date":12,"hours":12,"minutes":10},{"year":2021,"month":3,"date":12,"hours":12,"minutes":50}]}},
"y":{"field":"v","type":"quantitative","scale":{"domain":[0,110.5],"nice":false},
"axis":{"title":null,"orient":"right","values":[0,105],"grid":false,"tickSize":3,"labelPadding":2,"labelOverlap":false,"labelOffset":{"condition":{"test":"datum.value == 0","value":-10},"value":1}}},
"color":{"field":"vd","type":"nominal","scale":{"domain":["up","dn"],"range":["#0b8a0b","#ff0000"]},"legend":null}}},
{"mark":{"type":"rule","color":"#000000","strokeDash":[1,2],"strokeWidth":1},
"encoding":{"x":{"datum":{"year":2021,"month":3,"date":12,"hours":0,"minutes":5},"type":"temporal"}}}
]
}
]
}
